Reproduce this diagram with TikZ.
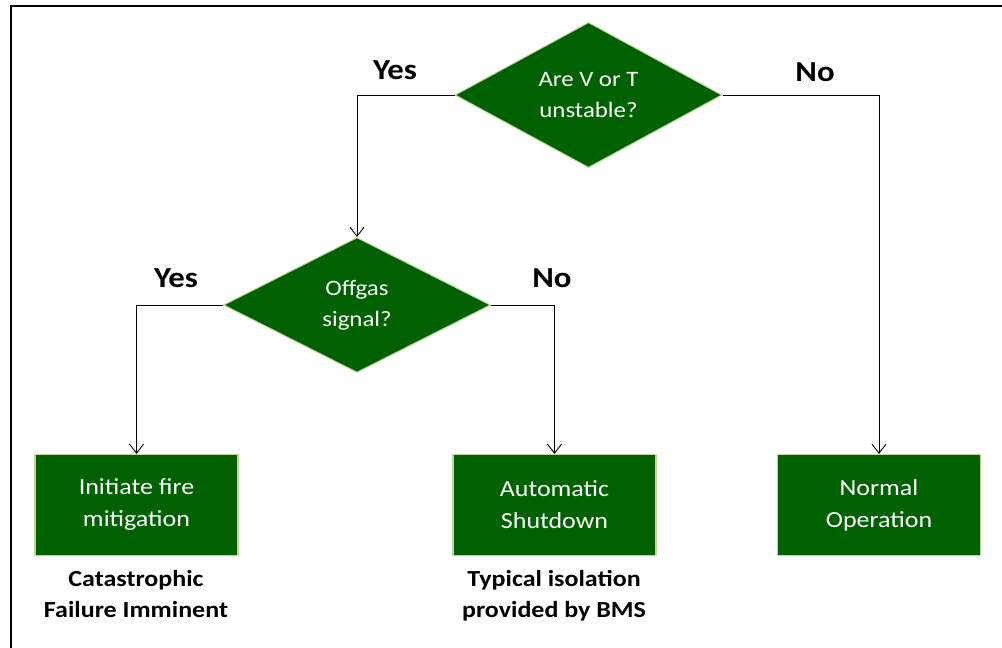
\documentclass[tikz,border=0pt]{standalone}
\usepackage{fontspec}
\setmainfont{Carlito}[FakeStretch=1.13]
\usetikzlibrary{shapes.geometric,arrows.meta}
\definecolor{dgreen}{HTML}{006100}
\definecolor{lborder}{HTML}{C4D79B}
\tikzset{
  x=1pt,y=-1pt,
  decision/.style={shape=diamond,fill=dgreen,draw=lborder,line width=1pt,inner sep=0pt,
    minimum width=267pt,minimum height=135pt,text=white,align=center,
    font=\fontsize{22}{31}\selectfont},
  actionbox/.style={rectangle,fill=dgreen,draw=lborder,line width=1.2pt,
    minimum width=203pt,minimum height=101pt,text=white,align=center,
    font=\fontsize{23}{32}\selectfont},
  answer/.style={font=\bfseries\fontsize{29}{32}\selectfont},
  note/.style={font=\bfseries\fontsize{23}{31}\selectfont,align=center},
  conn/.style={draw=black,line width=0.9pt,-{Straight Barb[length=9pt,width=14pt,line width=0.9pt]}}
}
\begin{document}
\begin{tikzpicture}
\useasboundingbox (0,0) rectangle (1002,648);
\draw[line width=2.2pt] (11,648) -- (11,6) -- (1002,6);
\node[decision] (q1) at (588.5,95) {Are V or T\\unstable?};
\node[decision] (q2) at (357,305) {Offgas\\signal?};
\node[actionbox] (b1) at (136.5,505) {Initiate fire\\mitigation};
\node[actionbox] (b2) at (554.5,505) {Automatic\\Shutdown};
\node[actionbox] (b3) at (879,505) {Normal\\Operation};
\draw[conn] (q1.west) -| (q2.north);
\draw[conn] (q1.east) -| (b3.north);
\draw[conn] (q2.west) -| (b1.north);
\draw[conn] (q2.east) -| (b2.north);
\node[answer] (y1) at (395,70) {Yes};
\node[answer] (n1) at (815,72) {No};
\node[answer] (y2) at (176,278) {Yes};
\node[answer] (n2) at (552,278) {No};
\node[note] (c1) at (136,594) {Catastrophic\\Failure Imminent};
\node[note] (c2) at (554,596) {Typical isolation\\provided by BMS};
\end{tikzpicture}
\end{document}
